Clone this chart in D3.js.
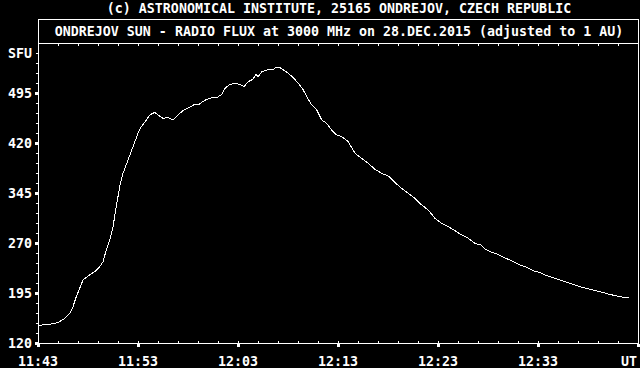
<!DOCTYPE html>
<html>
<head>
<meta charset="utf-8">
<script src="https://cdn.jsdelivr.net/npm/d3@7"></script>
<style>
  body { margin: 0; background: #000; }
  text { font-family: "DejaVu Sans Mono", monospace; font-weight: bold; font-size: 13.3px; fill: #fff; }
</style>
</head>
<body>
<div id="chart"></div>
<script>
const svgWidth = 640;
const svgHeight = 368;

const chartMargin = { top: 43, right: 2, bottom: 25, left: 38 };
const chartWidth = svgWidth - chartMargin.left - chartMargin.right;
const chartHeight = svgHeight - chartMargin.top - chartMargin.bottom;

const titleTop = "(c) ASTRONOMICAL INSTITUTE, 25165 ONDREJOV, CZECH REPUBLIC";
const titleBox = "ONDREJOV SUN - RADIO FLUX at 3000 MHz on 28.DEC.2015 (adjusted to 1 AU)";

// minutes after 11:43 UT
const minutes = [0, 1.17, 2, 2.67, 3.17, 3.5, 3.83, 4.17, 4.5, 5, 5.67, 6.17, 6.5, 6.83, 7.17, 7.5,
  7.83, 8.17, 8.5, 9, 9.5, 10, 10.33, 10.83, 11.17, 11.67, 12, 12.5, 13, 13.5, 14, 14.5, 15.17,
  15.67, 16, 16.37, 16.87, 17.37, 17.87, 18.37, 18.7, 19.2, 19.7, 20.2, 20.6, 21.03, 21.53, 21.77,
  22.03, 22.37, 23.03, 23.53, 23.8, 24.2, 24.7, 25.03, 25.53, 26.03, 26.53, 26.87, 27.37, 27.87,
  28.37, 28.87, 29.37, 29.87, 30.37, 31.03, 31.7, 32.37, 33.03, 33.7, 34.37, 35.03, 35.7, 36.37,
  37.03, 37.7, 38.37, 39.03, 39.7, 40.37, 41.03, 41.7, 42.37, 43.03, 43.7, 44.3, 44.7, 45.37,
  45.87, 46.53, 47.2, 47.7, 48.2, 48.87, 49.53, 50.2, 50.87, 51.53, 52.2, 52.87, 53.53, 54.2,
  54.87, 55.53, 56.2, 57.03, 57.87, 58.53, 59.13];

// solar radio flux, SFU
const flux = [146.5, 148, 150.5, 157, 164.5, 174.5, 189.5, 202, 214.5, 220.5, 227, 234.5, 242, 259.5,
  274.5, 294.5, 324.5, 354.5, 374.5, 394.5, 414.5, 434.5, 444.5, 454.5, 462, 466, 462, 457, 458.5,
  454.5, 462, 468.5, 473.5, 478, 477, 481, 485.5, 488, 488, 493, 502, 508, 509.5, 508, 504.5, 512,
  516, 523, 519.5, 527, 530, 530, 534, 533, 528, 524.5, 518, 509.5, 499.5, 489.5, 477, 469.5,
  454.5, 449.5, 439.5, 432, 429.5, 422, 404.5, 397, 389.5, 380.5, 374.5, 370.5, 360.5, 352, 344.5,
  337, 327, 319.5, 307, 299.5, 294.5, 288.5, 282, 277, 269.5, 267, 261, 256, 253.5, 248.5, 244.5,
  240.5, 237, 233.5, 228.5, 225.5, 221, 218, 214.5, 211, 208, 204.5, 202, 199.5, 197, 193.5,
  190.5, 188.5, 188];

const yTickValues = [120, 195, 270, 345, 420, 495, 555];
const yTickLabels = ["120", "195", "270", "345", "420", "495", "SFU"];
const xTickMinutes = [0, 10, 20, 30, 40, 50, 60];
const xTickLabels = ["11:43", "11:53", "12:03", "12:13", "12:23", "12:33", "UT"];

const start = new Date(2015, 11, 28, 11, 43);
const data = minutes.map((m, i) => ({ time: new Date(+start + m * 60000), value: flux[i] }));

const svg = d3.select('#chart')
  .append('svg')
  .attr('width', svgWidth)
  .attr('height', svgHeight);

const x = d3.scaleTime()
  .domain([start, d3.timeMinute.offset(start, 60)])
  .range([chartMargin.left, chartMargin.left + chartWidth]);

const y = d3.scaleLinear()
  .domain([120, 570])
  .range([chartMargin.top + chartHeight, chartMargin.top]);

const frame = svg.append('g')
  .attr('fill', 'none')
  .attr('stroke', '#fff')
  .attr('shape-rendering', 'crispEdges');

// title box + plot box
frame.append('rect')
  .attr('x', chartMargin.left + 0.5).attr('y', 19.5)
  .attr('width', chartWidth).attr('height', chartMargin.top + chartHeight - 19);
frame.append('line')
  .attr('x1', chartMargin.left).attr('x2', chartMargin.left + chartWidth)
  .attr('y1', chartMargin.top + 0.5).attr('y2', chartMargin.top + 0.5);

svg.append('text').attr('x', 339).attr('y', 13).attr('text-anchor', 'middle').text(titleTop);
svg.append('text').attr('x', 339).attr('y', 35.5).attr('text-anchor', 'middle').text(titleBox);

// x ticks: minor every 2 min inside, major every 10 min below
const minorX = d3.range(2, 60, 2).map(m => d3.timeMinute.offset(start, m));
const ticks = svg.append('g').attr('fill', '#fff').attr('shape-rendering', 'crispEdges');

ticks.selectAll('.xminor-b').data(minorX).join('rect')
  .attr('x', d => Math.round(x(d))).attr('y', y(120) - 2).attr('width', 1).attr('height', 2);
ticks.selectAll('.xminor-t').data(minorX).join('rect')
  .attr('x', d => Math.round(x(d))).attr('y', chartMargin.top + 1).attr('width', 1).attr('height', 2);
ticks.selectAll('.xmajor').data(xTickMinutes).join('rect')
  .attr('x', d => Math.round(x(d3.timeMinute.offset(start, d))) - 1)
  .attr('y', y(120) + 1).attr('width', 3).attr('height', 3);

svg.selectAll('.xlabel').data(xTickLabels).join('text')
  .attr('x', (d, i) => i === xTickLabels.length - 1 ? 637 : x(d3.timeMinute.offset(start, xTickMinutes[i])))
  .attr('y', 365.5)
  .attr('text-anchor', (d, i) => i === xTickLabels.length - 1 ? 'end' : 'middle')
  .text(d => d);

// y ticks: minor every 15 SFU, major every 75 SFU
const minorY = d3.range(135, 570, 15);
ticks.selectAll('.yminor').data(minorY).join('rect')
  .attr('x', chartMargin.left - 2).attr('y', d => Math.round(y(d))).attr('width', 2).attr('height', 1);
ticks.selectAll('.ymajor').data(yTickValues.slice(0, -1)).join('rect')
  .attr('x', chartMargin.left - 3).attr('y', d => Math.round(y(d)) - 1).attr('width', 3).attr('height', 3);

svg.selectAll('.ylabel').data(yTickLabels).join('text')
  .attr('x', 32)
  .attr('y', (d, i) => y(yTickValues[i]) + 5)
  .attr('text-anchor', 'end')
  .text(d => d);

// flux curve
const line = d3.line()
  .x(d => x(d.time))
  .y(d => y(d.value));

svg.append('path')
  .datum(data)
  .attr('fill', 'none')
  .attr('stroke', '#fff')
  .attr('stroke-width', 1)
  .attr('shape-rendering', 'crispEdges')
  .attr('d', line);
</script>
</body>
</html>
